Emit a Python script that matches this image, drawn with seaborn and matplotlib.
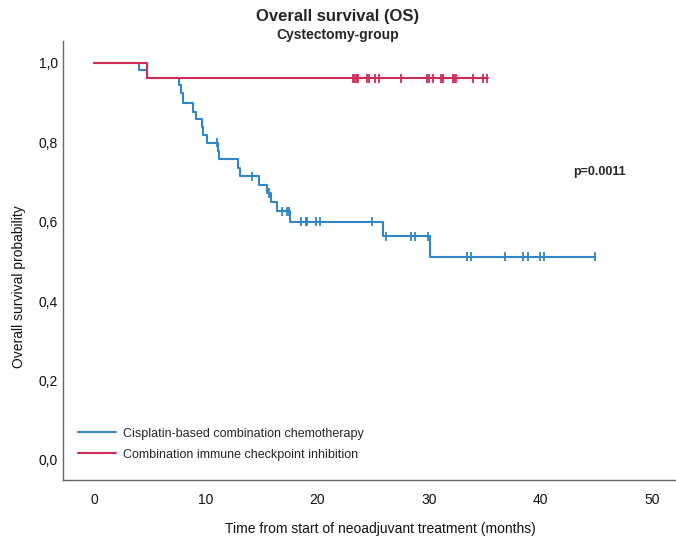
import numpy as np
import pandas as pd
import matplotlib
matplotlib.use("Agg")
import matplotlib.pyplot as plt
import seaborn as sns

# ---------------- data ----------------
group_names = ["Cisplatin-based combination chemotherapy",
               "Combination immune checkpoint inhibition"]

# Kaplan-Meier steps: event times and survival after each step
chemo_times = [0, 4.06, 4.72, 7.65, 7.80, 7.95, 8.90, 9.10, 9.68, 9.80, 10.15,
               11.08, 11.23, 12.93, 13.08, 14.81, 15.47, 15.85, 16.37, 17.56,
               25.93, 30.10, 44.90]
chemo_surv = [1.0, 0.982, 0.961, 0.945, 0.924, 0.900, 0.877, 0.858, 0.838, 0.819,
              0.799, 0.779, 0.757, 0.735, 0.714, 0.693, 0.672, 0.649, 0.626,
              0.600, 0.563, 0.512, 0.512]
chemo_cens_t = [10.99, 14.15, 15.70, 16.85, 17.25, 17.48, 18.55, 18.97, 19.06,
                19.90, 20.28, 24.88, 26.20, 28.40, 28.76, 29.90, 33.40, 33.80,
                36.80, 38.40, 38.90, 40.00, 40.30, 44.90]
chemo_cens_s = [0.799, 0.714, 0.672, 0.626, 0.626, 0.626, 0.600, 0.600, 0.600,
                0.600, 0.600, 0.600, 0.563, 0.563, 0.563, 0.563, 0.512, 0.512,
                0.512, 0.512, 0.512, 0.512, 0.512, 0.512]

ici_times = [0, 4.72, 35.30]
ici_surv = [1.0, 0.961, 0.961]
ici_cens_t = [23.23, 23.39, 23.54, 23.69, 24.43, 24.61, 25.18, 25.54, 27.48,
              29.81, 30.05, 30.35, 31.09, 31.30, 32.20, 32.30, 32.40, 33.99,
              34.89, 35.20]
ici_cens_s = [0.961] * len(ici_cens_t)

x_ticks = [0, 10, 20, 30, 40, 50]
y_ticks = [0.0, 0.2, 0.4, 0.6, 0.8, 1.0]
y_tick_labels = ["0,0", "0,2", "0,4", "0,6", "0,8", "1,0"]
p_text = "p=0.0011"

# ---------------- build tables ----------------
steps = pd.concat([
    pd.DataFrame({"time": chemo_times, "surv": chemo_surv, "group": group_names[0]}),
    pd.DataFrame({"time": ici_times, "surv": ici_surv, "group": group_names[1]}),
], ignore_index=True)
cens = pd.concat([
    pd.DataFrame({"time": chemo_cens_t, "surv": chemo_cens_s, "group": group_names[0]}),
    pd.DataFrame({"time": ici_cens_t, "surv": ici_cens_s, "group": group_names[1]}),
], ignore_index=True)

palette = {group_names[0]: "#2f86c8", group_names[1]: "#cf2d57"}

# ---------------- plot ----------------
sns.set_theme(style="white")
plt.rcParams["font.family"] = ["Liberation Sans", "DejaVu Sans"]

fig = plt.figure(figsize=(6.76, 5.37), dpi=100)
ax = fig.add_axes([63 / 676, 1 - 480 / 537, (676 - 63) / 676, (480 - 41) / 537])

sns.lineplot(data=steps, x="time", y="surv", hue="group", palette=palette,
             estimator=None, sort=False, drawstyle="steps-post",
             linewidth=1.5, ax=ax)
sns.scatterplot(data=cens, x="time", y="surv", hue="group", palette=palette,
                marker="|", s=45, linewidth=1.3, legend=False, ax=ax)

ax.set_xlim(-2.78, 52.15)
ax.set_ylim(-0.0504, 1.055)
ax.set_xticks(x_ticks)
ax.set_yticks(y_ticks)
ax.set_yticklabels(y_tick_labels)
ax.tick_params(axis="both", length=0, labelsize=10, colors="#111111")
ax.tick_params(axis="x", pad=9)
ax.tick_params(axis="y", pad=3.5)
for side in ["top", "right"]:
    ax.spines[side].set_visible(False)
for side in ["left", "bottom"]:
    ax.spines[side].set_color("#666666")
    ax.spines[side].set_linewidth(1.0)

ax.set_xlabel("Time from start of neoadjuvant treatment (months)", fontsize=10,
              color="#111111")
ax.set_ylabel("Overall survival probability", fontsize=10, color="#111111")
ax.xaxis.set_label_coords(0.518, -0.095)
ax.yaxis.set_label_coords(-0.060, 0.44)

ax.text(45.3, 0.725, p_text, fontsize=9, fontweight="bold", ha="center",
        va="center")

leg = ax.legend(loc="upper left", bbox_to_anchor=(0.025, 0.119), frameon=False,
                fontsize=9, handlelength=3.0, handletextpad=0.55,
                labelspacing=0.7, borderpad=0, borderaxespad=0)
for line in leg.get_lines():
    line.set_linewidth(1.5)

fig.text(338 / 676, 1 - 17 / 537, "Overall survival (OS)", fontsize=12,
         fontweight="bold", ha="center", va="center")
fig.text(338 / 676, 1 - 35 / 537, "Cystectomy-group", fontsize=10,
         fontweight="bold", ha="center", va="center")

fig.savefig("out.png", dpi=100)
